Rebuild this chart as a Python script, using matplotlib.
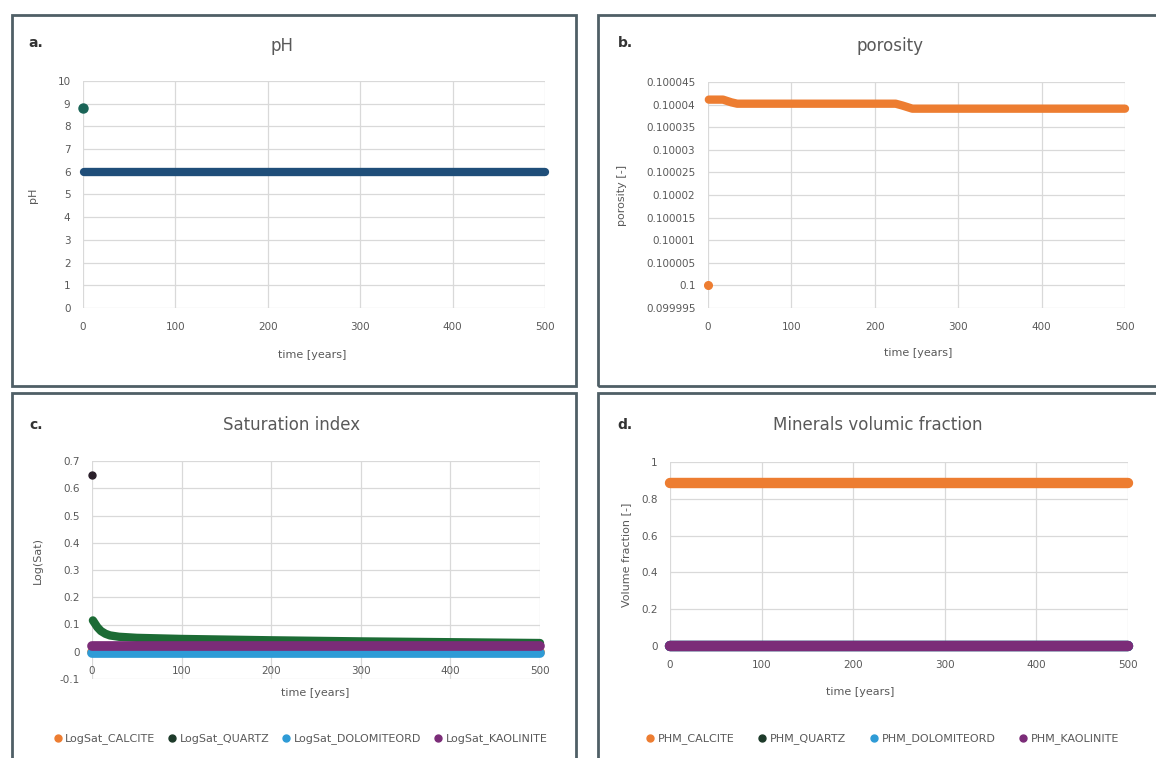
import matplotlib
matplotlib.use("Agg")
import matplotlib.pyplot as plt
from matplotlib.patches import Rectangle
from matplotlib.ticker import FuncFormatter, MultipleLocator
from matplotlib.lines import Line2D

plt.rcParams['font.family'] = ['DejaVu Sans']

W, H = 1156, 758

# ---- data ----
time_ticks = [0, 100, 200, 300, 400, 500]

# pH
ph_time = [0, 1, 500]
ph_values = [8.8, 6.0, 6.0]

# porosity
porosity_time = [0, 1, 18, 28, 35, 225, 233, 245, 500]
porosity_values = [0.1, 0.1000411, 0.1000411, 0.1000405, 0.1000402,
                   0.1000402, 0.1000398, 0.1000391, 0.1000391]

# saturation index
si_names = ["LogSat_CALCITE", "LogSat_QUARTZ", "LogSat_DOLOMITEORD", "LogSat_KAOLINITE"]
si_time = [0, 1, 3, 6, 10, 15, 20, 30, 50, 100, 200, 300, 400, 500]
si_calcite = [0.0] * len(si_time)
si_quartz = [0.65, 0.115, 0.105, 0.09, 0.076, 0.066, 0.06, 0.055, 0.051, 0.047,
             0.042, 0.038, 0.035, 0.032]
si_dolomite = [-0.005] * len(si_time)
si_kaolinite = [0.02] * len(si_time)

# mineral volume fractions
vf_names = ["PHM_CALCITE", "PHM_QUARTZ", "PHM_DOLOMITEORD", "PHM_KAOLINITE"]
vf_time = [0, 500]
vf_calcite = [0.885, 0.885]
vf_quartz = [0.0, 0.0]
vf_dolomite = [0.0, 0.0]
vf_kaolinite = [0.0, 0.0]

series_colors = ["#ED7D31", "#1d3a2a", "#2E9BD6", "#7B2C78"]
ph_color = "#1f4e79"
ph_first_color = "#1a6457"
quartz_si_color = "#1c6b35"

text_col = "#595959"
grid_col = "#d9d9d9"
border_col = "#4f5f66"

TICK_FS = 7.5
LABEL_FS = 8
TITLE_FS = 12
LEGEND_FS = 8

fig = plt.figure(figsize=(W / 100, H / 100), dpi=100)
fig.patch.set_facecolor("white")


def px_axes(left, top, right, bottom):
    return fig.add_axes([left / W, 1 - bottom / H, (right - left) / W, (bottom - top) / H])


def panel_box(left, top, right, bottom):
    fig.patches.append(Rectangle((left / W, 1 - bottom / H), (right - left) / W,
                                 (bottom - top) / H, transform=fig.transFigure,
                                 fill=False, edgecolor=border_col, linewidth=2.0))


def fig_text(x, y, s, **kw):
    fig.text(x / W, 1 - y / H, s, ha="center", va="center", **kw)


def style_axes(ax):
    for sp in ax.spines.values():
        sp.set_visible(False)
    ax.grid(True, color=grid_col, linewidth=0.9)
    ax.set_axisbelow(True)
    ax.tick_params(length=0, labelsize=TICK_FS, colors=text_col)
    ax.tick_params(axis="x", pad=10)
    ax.tick_params(axis="y", pad=9)
    ax.set_xlim(0, 500)
    ax.set_xticks(time_ticks)


# panel frames
panel_box(12, 15, 576, 386)
panel_box(598, 15, 1160, 386)
panel_box(12, 393, 576, 762)
panel_box(598, 393, 1160, 762)

# ---- a. pH ----
ax = px_axes(83, 81, 545, 308)
style_axes(ax)
ax.set_ylim(0, 10)
ax.yaxis.set_major_locator(MultipleLocator(1))
ax.plot(ph_time[1:], ph_values[1:], color=ph_color, lw=6, solid_capstyle="round", clip_on=False)
ax.plot(ph_time[:1], ph_values[:1], "o", color=ph_first_color, ms=6.5, clip_on=False)
fig_text(312, 355, "time [years]", fontsize=LABEL_FS, color=text_col)
fig_text(33, 195, "pH", fontsize=LABEL_FS, color=text_col, rotation=90)
fig_text(282, 46, "pH", fontsize=TITLE_FS, color=text_col)
fig_text(36, 43, "a.", fontsize=10, color="#333333", fontweight="bold")

# ---- b. porosity ----
ax = px_axes(708, 82, 1125, 308)
style_axes(ax)
ax.set_ylim(0.099995, 0.100045)
ax.set_yticks([0.099995 + 0.000005 * i for i in range(11)])
ax.yaxis.set_major_formatter(FuncFormatter(lambda v, p: f"{round(v, 7):.6g}"))
ax.plot(porosity_time[1:], porosity_values[1:], color=series_colors[0], lw=6,
        solid_capstyle="round", clip_on=False)
ax.plot(porosity_time[:1], porosity_values[:1], "o", color=series_colors[0], ms=5.5, clip_on=False)
fig_text(918, 353, "time [years]", fontsize=LABEL_FS, color=text_col)
fig_text(622, 195, "porosity [-]", fontsize=LABEL_FS, color=text_col, rotation=90)
fig_text(890, 46, "porosity", fontsize=TITLE_FS, color=text_col)
fig_text(625, 43, "b.", fontsize=10, color="#333333", fontweight="bold")

# ---- c. saturation index ----
ax = px_axes(92, 461, 540, 679)
style_axes(ax)
ax.set_ylim(-0.1, 0.7)
# horizontal axis crosses at zero, so time labels sit just under the zero line
ax.spines["bottom"].set_position(("data", 0))
ax.yaxis.set_major_locator(MultipleLocator(0.1))
ax.yaxis.set_major_formatter(FuncFormatter(lambda v, p: f"{round(v, 2):g}"))
si_series = [si_calcite, si_quartz, si_dolomite, si_kaolinite]
si_line_colors = [series_colors[0], quartz_si_color, series_colors[2], series_colors[3]]
for name, vals, col in zip(si_names, si_series, si_line_colors):
    if name == "LogSat_QUARTZ":
        ax.plot(si_time[1:], vals[1:], color=col, lw=6, solid_capstyle="round", clip_on=False)
        ax.plot(si_time[:1], vals[:1], "o", color="#2a1f2a", ms=5, clip_on=False)
    else:
        ax.plot(si_time, vals, color=col, lw=7, solid_capstyle="round", clip_on=False)
fig_text(315, 693, "time [years]", fontsize=LABEL_FS, color=text_col)
fig_text(38, 560, "Log(Sat)", fontsize=LABEL_FS, color=text_col, rotation=90)
fig_text(292, 425, "Saturation index", fontsize=TITLE_FS, color=text_col)
fig_text(36, 425, "c.", fontsize=10, color="#333333", fontweight="bold")
handles = [Line2D([], [], ls="none", marker="o", ms=5, color=c) for c in series_colors]
fig.legend(handles, si_names, loc="center", bbox_to_anchor=(300 / W, 1 - 739 / H),
           ncol=4, frameon=False, fontsize=LEGEND_FS, labelcolor=text_col,
           handletextpad=0.2, columnspacing=1.0, handlelength=1.0)

# ---- d. volume fractions ----
ax = px_axes(670, 462, 1128, 646)
style_axes(ax)
ax.set_ylim(0, 1)
ax.yaxis.set_major_locator(MultipleLocator(0.2))
ax.yaxis.set_major_formatter(FuncFormatter(lambda v, p: f"{round(v, 2):g}"))
for vals, col in zip([vf_calcite, vf_quartz, vf_dolomite, vf_kaolinite], series_colors):
    ax.plot(vf_time, vals, color=col, lw=7.5, solid_capstyle="round", clip_on=False)
fig_text(860, 692, "time [years]", fontsize=LABEL_FS, color=text_col)
fig_text(626, 555, "Volume fraction [-]", fontsize=LABEL_FS, color=text_col, rotation=90)
fig_text(878, 425, "Minerals volumic fraction", fontsize=TITLE_FS, color=text_col)
fig_text(625, 425, "d.", fontsize=10, color="#333333", fontweight="bold")
fig.legend(handles, vf_names, loc="center", bbox_to_anchor=(882 / W, 1 - 739 / H),
           ncol=4, frameon=False, fontsize=LEGEND_FS, labelcolor=text_col,
           handletextpad=0.2, columnspacing=2.0, handlelength=1.0)

fig.savefig("out.png", dpi=100, facecolor="white")
